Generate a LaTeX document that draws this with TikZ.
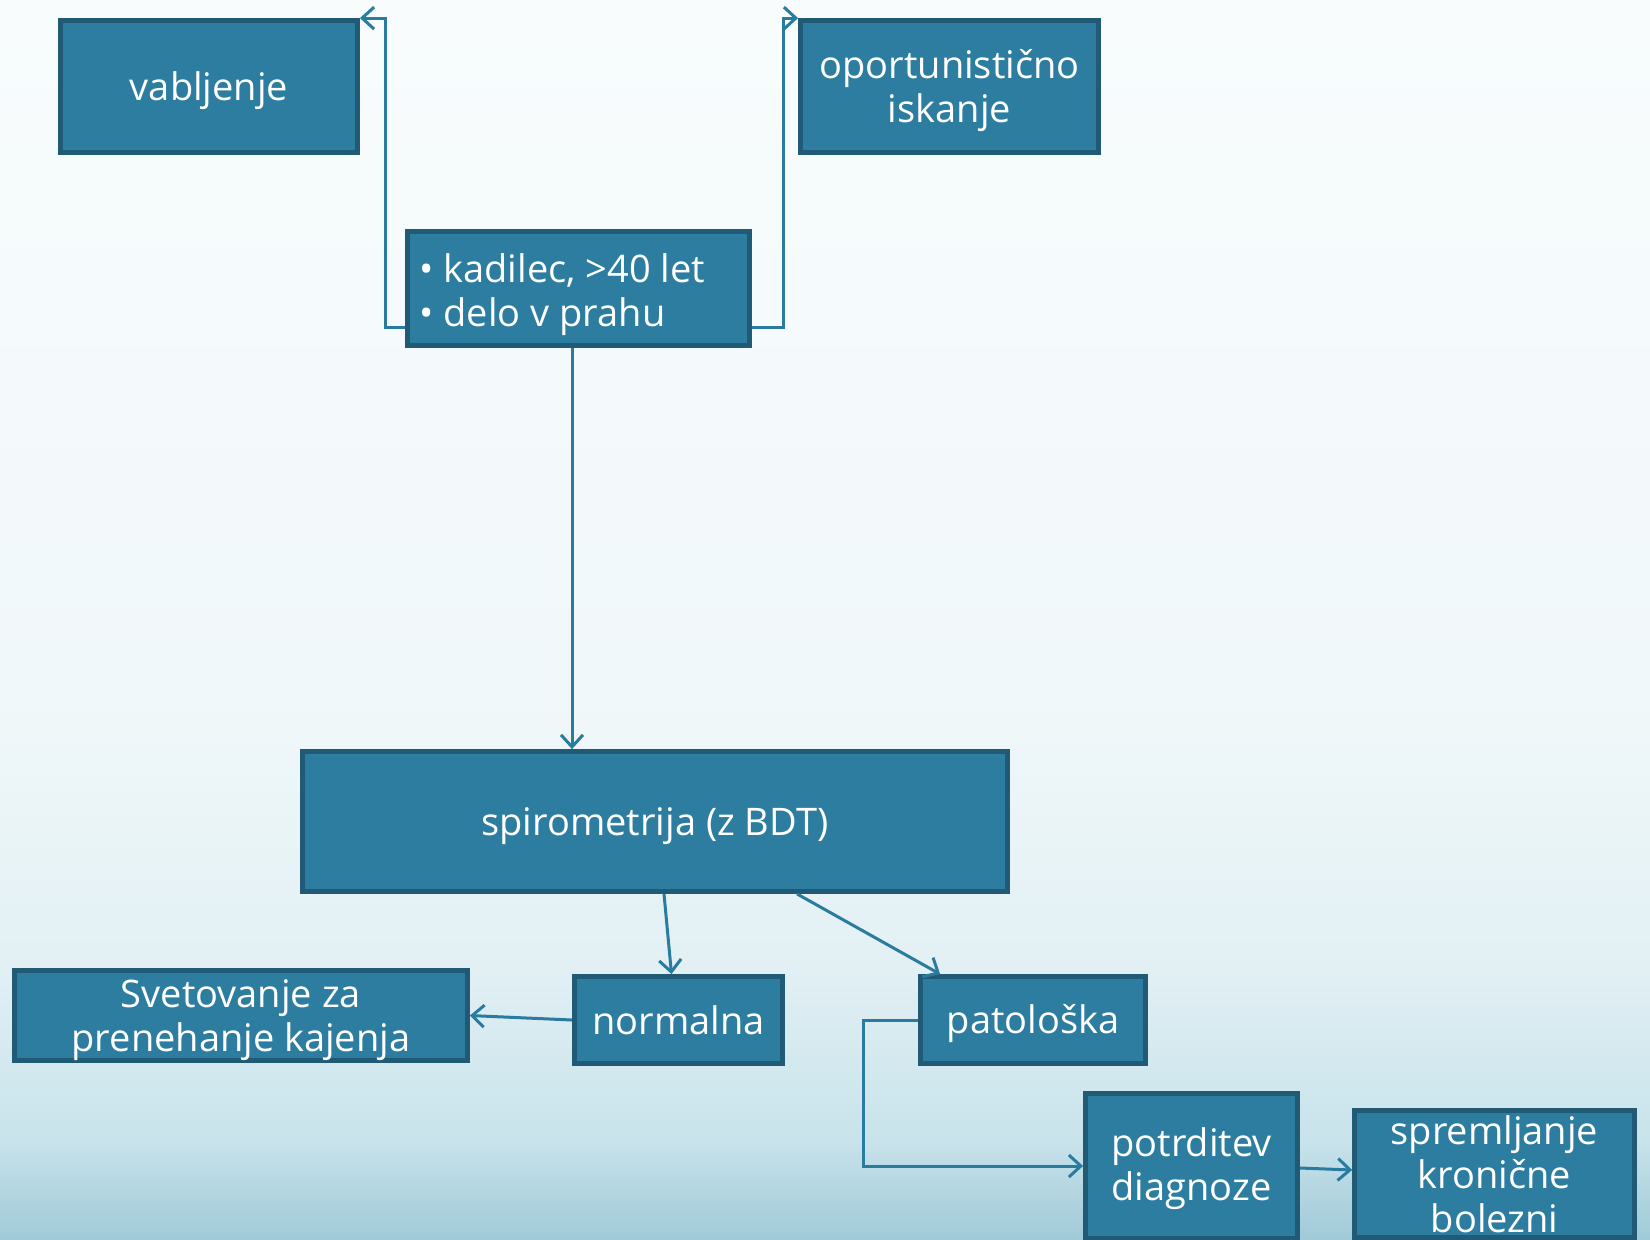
\documentclass[tikz,border=0pt]{standalone}
\usepackage{fontspec}
\setmainfont{Open Sans}
\usetikzlibrary{arrows.meta,calc}
\definecolor{boxfill}{RGB}{45,125,160}
\definecolor{boxline}{RGB}{33,90,117}
\definecolor{conncol}{RGB}{42,123,160}
\definecolor{bgA}{RGB}{160,202,216}
\definecolor{bgB}{RGB}{200,227,235}
\definecolor{bgC}{RGB}{226,240,244}
\definecolor{bgD}{RGB}{241,248,250}
\definecolor{bgE}{RGB}{248,252,253}
\pgfdeclareverticalshading{bgshade}{100bp}{color(0bp)=(bgA); color(25bp)=(bgA); color(29bp)=(bgB); color(36bp)=(bgC); color(47bp)=(bgD); color(75bp)=(bgE); color(100bp)=(bgE)}
\newcommand{\lowstrut}{\rule{0pt}{18.5pt}}
\begin{document}
\begin{tikzpicture}[x=0.5pt,y=-0.5pt,
  boxfont/.style={font=\fontsize{19}{22}\selectfont},
  box/.style={draw=boxline, line width=2.4pt, fill=boxfill, text=white, align=center,
    inner sep=0pt, boxfont},
  conn/.style={draw=conncol, line width=1.5pt, -{Straight Barb[length=6pt,width=11pt]}}]
\useasboundingbox (0,0) rectangle (1650,1239);
\shade[shading=bgshade] (0,0) rectangle (1650,1239);

\node[box, minimum width=148.5pt, minimum height=66pt] (vab) at (209,86.5) {\lowstrut vabljenje};
\node[box, minimum width=149pt, minimum height=66pt] (opo) at (949.5,86.5) {\lowstrut oportunistično\\iskanje};
\node[box, minimum width=171pt, minimum height=57pt] (kad) at (578.5,288.5) {};
\node[align=left, text=white, inner sep=0pt, boxfont, anchor=west] (kadtxt) at (419,295) {• kadilec, >40 let\\• delo v prahu};
\node[box, minimum width=352.5pt, minimum height=70pt] (spiro) at (655,821.5) {\lowstrut spirometrija (z BDT)};
\node[box, minimum width=226.5pt, minimum height=43pt] (svet) at (241,1015.5) {\lowstrut Svetovanje za\\prenehanje kajenja};
\node[box, minimum width=104pt, minimum height=43.5pt] (norm) at (678.5,1020) {normalna};
\node[box, minimum width=112.5pt, minimum height=43.5pt] (pat) at (1033,1020) {\lowstrut patološka};
\node[box, minimum width=106pt, minimum height=72.5pt] (pot) at (1191.5,1166) {\rule{0pt}{17pt}potrditev\\diagnoze};
\node[box, minimum width=140pt, minimum height=63.5pt] (spr) at (1494.5,1174) {spremljanje\\kronične\\bolezni};

\draw[conn] ($(kad.south west)+(0,-20)$) -- ++(-20,0) |- (vab.north east);
\draw[conn] ($(kad.south east)+(0,-20)$) -- ++(32,0) |- (opo.north west);
\coordinate (k1) at ($(kad.south)+(-6.5,0)$);
\draw[conn] (k1) -- (k1 |- spiro.north);
\draw[conn] ($(spiro.south)+(9,0)$) -- ($(norm.north)+(-7,0)$);
\draw[conn] ($(spiro.south)+(142,0)$) -- ($(pat.north west)+(22,0)$);
\draw[conn] (norm.west) -- (svet.east);
\draw[conn] (pat.west) -- ++(-55,0) |- (pot.west);
\draw[conn] ($(pot.east)+(0,2)$) -- ($(spr.west)+(0,-4)$);
\end{tikzpicture}
\end{document}
